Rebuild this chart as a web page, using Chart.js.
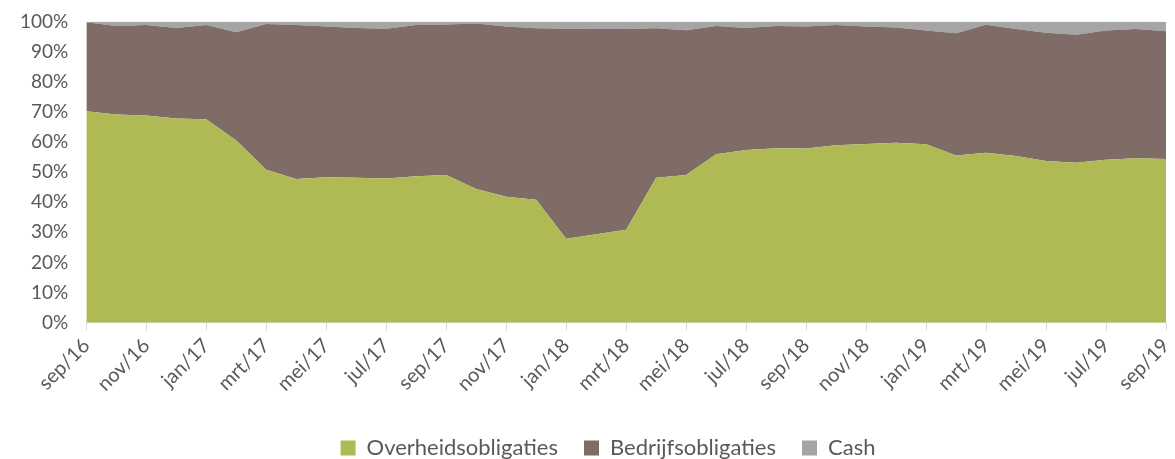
<!DOCTYPE html>
<html>
<head>
<meta charset="utf-8">
<script src="https://cdn.jsdelivr.net/npm/chart.js@4/dist/chart.umd.min.js"></script>
<style>
  html, body { margin: 0; padding: 0; background: #fff; }
  #wrap { width: 1175px; height: 459px; position: relative; }
</style>
</head>
<body>
<div id="wrap"><canvas id="chart"></canvas></div>
<script>
// maanden sep/16 .. sep/19
const months = [
  'sep/16', 'okt/16', 'nov/16', 'dec/16', 'jan/17', 'feb/17', 'mrt/17', 'apr/17', 'mei/17', 'jun/17', 'jul/17', 'aug/17',
  'sep/17', 'okt/17', 'nov/17', 'dec/17', 'jan/18', 'feb/18', 'mrt/18', 'apr/18', 'mei/18', 'jun/18', 'jul/18', 'aug/18',
  'sep/18', 'okt/18', 'nov/18', 'dec/18', 'jan/19', 'feb/19', 'mrt/19', 'apr/19', 'mei/19', 'jun/19', 'jul/19', 'aug/19',
  'sep/19'
];

const overheid = [70.2, 69.1, 68.8, 67.8, 67.5, 60.5, 50.8, 47.7, 48.3, 48.1, 47.9, 48.6,
  49.0, 44.4, 41.8, 40.8, 27.9, 29.4, 30.9, 48.1, 49.0, 55.9, 57.3, 57.9,
  57.8, 58.9, 59.3, 59.7, 59.2, 55.5, 56.4, 55.3, 53.7, 53.1, 54.1, 54.6,
  54.3];

const bedrijf = [29.5, 29.4, 30.0, 30.0, 31.3, 35.9, 48.3, 51.1, 50.0, 49.7, 49.7, 50.2,
  50.0, 54.9, 56.5, 56.9, 69.7, 68.1, 66.6, 49.6, 48.1, 42.6, 40.5, 40.6,
  40.5, 39.9, 39.0, 38.3, 37.8, 40.6, 42.5, 42.2, 42.5, 42.5, 42.9, 42.9,
  42.4];

const cash = [0.3, 1.5, 1.2, 2.2, 1.2, 3.6, 0.9, 1.2, 1.7, 2.2, 2.4, 1.2,
  1.0, 0.7, 1.7, 2.3, 2.4, 2.5, 2.5, 2.3, 2.9, 1.5, 2.2, 1.5,
  1.7, 1.2, 1.7, 2.0, 3.0, 3.9, 1.1, 2.5, 3.8, 4.4, 3.0, 2.5,
  3.3];

const yTicks = [0, 10, 20, 30, 40, 50, 60, 70, 80, 90, 100];

const textColor = '#595959';
const fontFamily = 'Lato, "Open Sans", sans-serif';

function area(label, data, color, fill) {
  return {
    label: label,
    data: data,
    backgroundColor: color,
    borderColor: color,
    borderWidth: 0,
    pointRadius: 0,
    pointHoverRadius: 0,
    tension: 0,
    fill: fill
  };
}

// legenda iets naar rechts, zoals in het origineel (gecentreerd onder de grafiek)
const legendShift = {
  id: 'legendShift',
  afterLayout(chart) {
    if (chart.legend) chart.legend.left += 40;
  }
};

new Chart(document.getElementById('chart'), {
  type: 'line',
  data: {
    labels: months,
    datasets: [
      area('Overheidsobligaties', overheid, '#afba55', 'origin'),
      area('Bedrijfsobligaties', bedrijf, '#7f6c66', '-1'),
      area('Cash', cash, '#a5a5a5', '-1')
    ]
  },
  plugins: [legendShift],
  options: {
    responsive: true,
    maintainAspectRatio: false,
    animation: false,
    layout: { padding: { top: 6, right: 9, left: 10, bottom: -10 } },
    plugins: {
      tooltip: { enabled: false },
      legend: {
        position: 'bottom',
        labels: {
          boxWidth: 15,
          boxHeight: 15,
          padding: 26,
          color: textColor,
          font: { family: fontFamily, size: 22 }
        }
      }
    },
    scales: {
      x: {
        offset: false,
        // laatste label eindigt op de tick, geen extra ruimte rechts nodig
        afterFit: (s) => { s.paddingRight = 0; s.height += 12; },
        grid: {
          drawOnChartArea: false,
          drawTicks: true,
          tickLength: 8,
          color: (c) => (c.index % 2 === 0 ? '#d9d9d9' : 'rgba(0,0,0,0)')
        },
        border: { color: '#d9d9d9', width: 1 },
        ticks: {
          autoSkip: false,
          maxRotation: 45,
          minRotation: 45,
          color: textColor,
          font: { family: fontFamily, size: 20 },
          callback: function (v, i) { return i % 2 === 0 ? months[i] : ''; }
        }
      },
      y: {
        stacked: true,
        min: 0,
        max: 100,
        afterBuildTicks: (axis) => { axis.ticks = yTicks.map(v => ({ value: v })); },
        grid: { display: false },
        border: { display: false },
        ticks: {
          color: textColor,
          padding: 10,
          font: { family: fontFamily, size: 19 },
          callback: (v) => v + '%'
        }
      }
    }
  }
});
</script>
</body>
</html>
